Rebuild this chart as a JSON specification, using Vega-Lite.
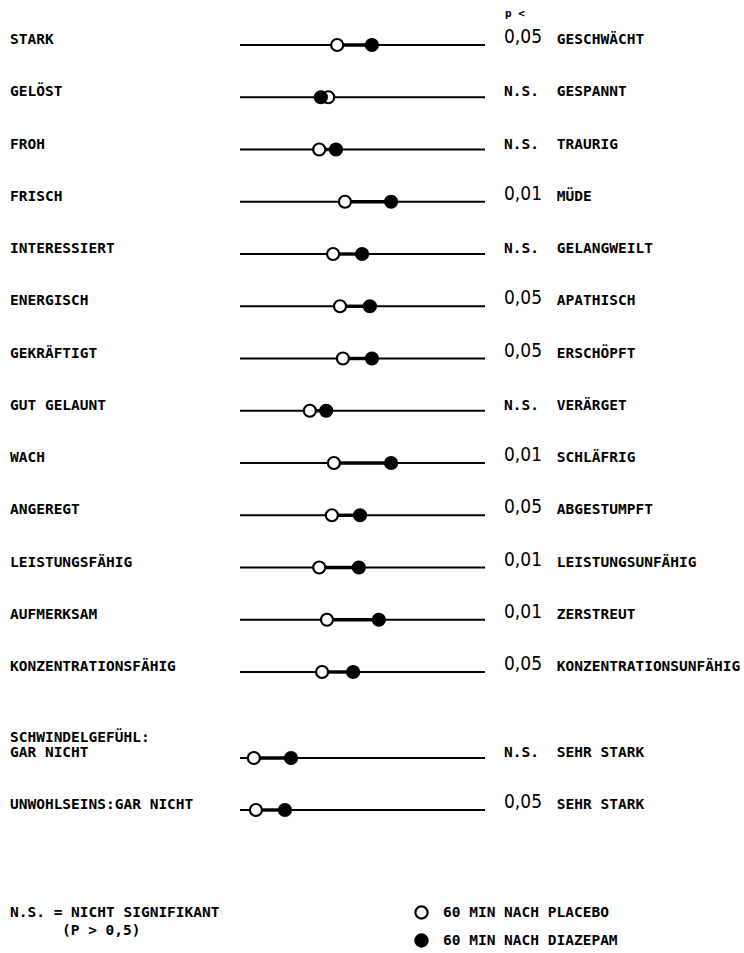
{
  "$schema": "https://vega.github.io/schema/vega-lite/v6.json",
  "width": 744,
  "height": 953,
  "autosize": {"type": "fit", "contains": "padding"},
  "padding": 0,
  "background": "white",
  "config": {"view": {"stroke": null}},
  "data": {
    "values": [
      {"nr": 1, "left": "STARK", "right": "GESCHWÄCHT", "p": "0,05", "placebo": 3.38, "diazepam": 4.23},
      {"nr": 2, "left": "GELÖST", "right": "GESPANNT", "p": "N.S.", "placebo": 3.16, "diazepam": 2.98},
      {"nr": 3, "left": "FROH", "right": "TRAURIG", "p": "N.S.", "placebo": 2.94, "diazepam": 3.35},
      {"nr": 4, "left": "FRISCH", "right": "MÜDE", "p": "0,01", "placebo": 3.57, "diazepam": 4.70},
      {"nr": 5, "left": "INTERESSIERT", "right": "GELANGWEILT", "p": "N.S.", "placebo": 3.28, "diazepam": 3.99},
      {"nr": 6, "left": "ENERGISCH", "right": "APATHISCH", "p": "0,05", "placebo": 3.45, "diazepam": 4.18},
      {"nr": 7, "left": "GEKRÄFTIGT", "right": "ERSCHÖPFT", "p": "0,05", "placebo": 3.52, "diazepam": 4.23},
      {"nr": 8, "left": "GUT GELAUNT", "right": "VERÄRGET", "p": "N.S.", "placebo": 2.71, "diazepam": 3.11},
      {"nr": 9, "left": "WACH", "right": "SCHLÄFRIG", "p": "0,01", "placebo": 3.30, "diazepam": 4.70},
      {"nr": 10, "left": "ANGEREGT", "right": "ABGESTUMPFT", "p": "0,05", "placebo": 3.25, "diazepam": 3.94},
      {"nr": 11, "left": "LEISTUNGSFÄHIG", "right": "LEISTUNGSUNFÄHIG", "p": "0,01", "placebo": 2.94, "diazepam": 3.91},
      {"nr": 12, "left": "AUFMERKSAM", "right": "ZERSTREUT", "p": "0,01", "placebo": 3.13, "diazepam": 4.40},
      {"nr": 13, "left": "KONZENTRATIONSFÄHIG", "right": "KONZENTRATIONSUNFÄHIG", "p": "0,05", "placebo": 3.01, "diazepam": 3.77},
      {"nr": 14, "head": "SCHWINDELGEFÜHL:", "left": "GAR NICHT", "right": "SEHR STARK", "p": "N.S.", "placebo": 1.34, "diazepam": 2.25},
      {"nr": 15, "left": "UNWOHLSEINS:GAR NICHT", "right": "SEHR STARK", "p": "0,05", "placebo": 1.39, "diazepam": 2.10}
    ]
  },
  "encoding": {
    "y": {
      "field": "nr",
      "type": "quantitative",
      "scale": {"domain": [1, 13, 14, 15], "range": [45, 672, 758, 810], "nice": false, "zero": false},
      "axis": null
    }
  },
  "layer": [
    {
      "mark": {"type": "rule", "color": "black", "strokeWidth": 2.2},
      "encoding": {
        "x": {"datum": 1, "type": "quantitative", "scale": {"domain": [1, 7], "range": [240, 485], "nice": false, "zero": false}, "axis": null},
        "x2": {"datum": 7}
      }
    },
    {
      "mark": {"type": "rule", "color": "black", "strokeWidth": 3.4},
      "encoding": {
        "x": {"field": "placebo", "type": "quantitative"},
        "x2": {"field": "diazepam"}
      }
    },
    {
      "transform": [{"fold": ["placebo", "diazepam"], "as": ["group", "value"]}],
      "mark": {"type": "point", "shape": "circle", "filled": true, "stroke": "black", "strokeWidth": 2.2, "size": 145, "opacity": 1},
      "encoding": {
        "x": {"field": "value", "type": "quantitative"},
        "fill": {
          "field": "group",
          "type": "nominal",
          "scale": {"domain": ["placebo", "diazepam"], "range": ["white", "black"]},
          "legend": {
            "orient": "none",
            "legendX": 414,
            "legendY": 905,
            "title": null,
            "padding": 0,
            "symbolType": "circle",
            "symbolSize": 150,
            "symbolStrokeColor": "black",
            "symbolStrokeWidth": 2.2,
            "labelFont": "DejaVu Sans Mono",
            "labelFontWeight": "bold",
            "labelFontSize": 14.5,
            "labelColor": "black",
            "labelOffset": 14,
            "labelLimit": 400,
            "rowPadding": 5,
            "labelExpr": "datum.label == 'placebo' ? '60 MIN NACH PLACEBO' : '60 MIN NACH DIAZEPAM'"
          }
        }
      }
    },
    {
      "mark": {"type": "text", "align": "left", "baseline": "bottom", "dy": 2, "font": "DejaVu Sans Mono", "fontWeight": "bold", "fontSize": 14.5, "color": "black"},
      "encoding": {
        "x": {"datum": -4.633, "type": "quantitative"},
        "text": {"field": "left"}
      }
    },
    {
      "transform": [{"filter": "isValid(datum.head)"}],
      "mark": {"type": "text", "align": "left", "baseline": "bottom", "dy": -13, "font": "DejaVu Sans Mono", "fontWeight": "bold", "fontSize": 14.5, "color": "black"},
      "encoding": {
        "x": {"datum": -4.633, "type": "quantitative"},
        "text": {"field": "head"}
      }
    },
    {
      "mark": {"type": "text", "align": "left", "baseline": "bottom", "dy": 2, "font": "DejaVu Sans Mono", "fontWeight": "bold", "fontSize": 14.5, "color": "black"},
      "encoding": {
        "x": {"datum": 8.76, "type": "quantitative"},
        "text": {"field": "right"}
      }
    },
    {
      "transform": [{"filter": "datum.p == 'N.S.'"}],
      "mark": {"type": "text", "align": "left", "baseline": "bottom", "dy": 2, "font": "DejaVu Sans Mono", "fontWeight": "bold", "fontSize": 14.5, "color": "black"},
      "encoding": {
        "x": {"datum": 7.465, "type": "quantitative"},
        "text": {"field": "p"}
      }
    },
    {
      "transform": [{"filter": "datum.p != 'N.S.'"}],
      "mark": {"type": "text", "align": "left", "baseline": "bottom", "dy": 2, "font": "DejaVu Sans Condensed, DejaVu Sans", "fontWeight": "normal", "fontSize": 19, "color": "black"},
      "encoding": {
        "x": {"datum": 7.465, "type": "quantitative"},
        "text": {"field": "p"}
      }
    },
    {
      "transform": [{"filter": "datum.nr == 1"}],
      "mark": {"type": "text", "text": "p <", "align": "left", "baseline": "alphabetic", "dy": -28, "font": "DejaVu Sans Mono", "fontWeight": "bold", "fontSize": 11, "color": "black"},
      "encoding": {
        "x": {"datum": 7.49, "type": "quantitative"}
      }
    },
    {
      "transform": [{"filter": "datum.nr == 15"}],
      "mark": {"type": "text", "text": "N.S. = NICHT SIGNIFIKANT", "align": "left", "baseline": "alphabetic", "dy": 107, "font": "DejaVu Sans Mono", "fontWeight": "bold", "fontSize": 14.5, "color": "black"},
      "encoding": {
        "x": {"datum": -4.633, "type": "quantitative"}
      }
    },
    {
      "transform": [{"filter": "datum.nr == 15"}],
      "mark": {"type": "text", "text": "(P > 0,5)", "align": "left", "baseline": "alphabetic", "dy": 125, "font": "DejaVu Sans Mono", "fontWeight": "bold", "fontSize": 14.5, "color": "black"},
      "encoding": {
        "x": {"datum": -3.36, "type": "quantitative"}
      }
    }
  ]
}
